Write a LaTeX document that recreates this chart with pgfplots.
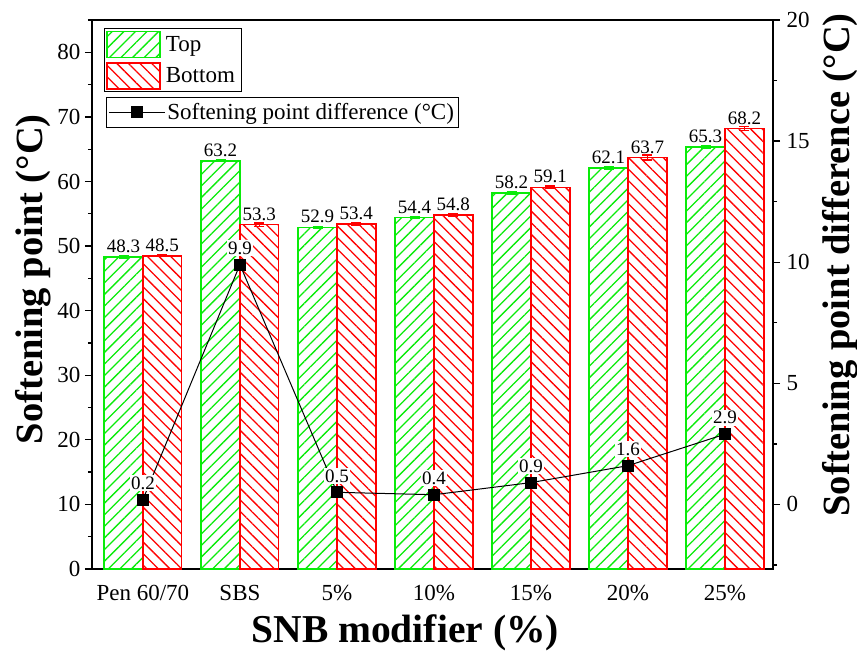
\documentclass[border=0pt]{standalone}
\usepackage{fontspec}
\setmainfont{Liberation Serif}
\usepackage{pgfplots}
\pgfplotsset{compat=1.18}
\usetikzlibrary{patterns.meta}

\definecolor{topgreen}{RGB}{10,235,10}
\definecolor{botred}{RGB}{255,0,0}

\newcommand{\tickfont}{\fontsize{23}{27}\selectfont}
\newcommand{\valfont}{\fontsize{19}{22}\selectfont}
\newcommand{\ylabfont}{\fontsize{38.5}{42}\selectfont\bfseries}
\newcommand{\xlabfont}{\fontsize{39.5}{43}\selectfont\bfseries}

\pgfplotsset{
  hatchbox legend/.style={legend image code/.code={\draw[##1] (0pt,-13pt) rectangle (53pt,13pt);}},
  markline legend/.style={legend image code/.code={\draw[##1, mark repeat=2, mark phase=2] plot coordinates {(0pt,0pt) (28pt,0pt) (56pt,0pt)};}},
}

% Bar positions: category index -0.2 (top) and +0.2 (bottom)
\pgfplotstableread{
x    y    e
-0.2 48.3 0.15
0.8  63.2 0.1
1.8  52.9 0.15
2.8  54.4 0.15
3.8  58.2 0.2
4.8  62.1 0.2
5.8  65.3 0.2
}\toptable
\pgfplotstableread{
x   y    e
0.2 48.5 0.15
1.2 53.3 0.3
2.2 53.4 0.2
3.2 54.8 0.2
4.2 59.1 0.2
5.2 63.7 0.4
6.2 68.2 0.3
}\bottomtable
\pgfplotstableread{
x y
0 0.2
1 9.9
2 0.5
3 0.4
4 0.9
5 1.6
6 2.9
}\difftable

\begin{document}
\begin{tikzpicture}
\useasboundingbox (-92pt,-85pt) rectangle (765pt,569pt);

% Softening point of the top and bottom sections (left axis)
\begin{axis}[
  scale only axis,
  width=681pt, height=549pt,
  xmin=-0.525, xmax=6.495,
  ymin=0, ymax=85,
  ytick={0,10,...,80},
  minor ytick={5,15,...,85},
  ytick pos=left,
  xtick={0,1,2,3,4,5,6},
  xticklabels={Pen 60/70,SBS,5\%,10\%,15\%,20\%,25\%},
  xtick style={draw=none},
  tick align=outside,
  major tick length=7pt,
  minor tick length=4pt,
  every tick/.style={black, line width=1.3pt},
  axis line style={line width=1.8pt},
  /pgf/number format/assume math mode=true,
  ticklabel style={font=\tickfont},
  xticklabel style={yshift=-6pt},
  yticklabel style={xshift=-1pt},
  xlabel={SNB modifier (\%)},
  ylabel={Softening point (°C)},
  xlabel style={font=\xlabfont, at={(axis description cs:0.46,-0.117)}, anchor=center},
  ylabel style={font=\ylabfont, at={(axis description cs:-0.087,0.528)}, anchor=center},
  legend style={at={(axis description cs:0.0176,0.985)}, anchor=north west,
    draw=black, line width=0.8pt, font=\tickfont, row sep=4pt,
    inner xsep=2pt, inner ysep=2pt, nodes={inner xsep=5pt}},
  legend cell align=left,
  hatchbox legend,
  nodes near coords,
  every node near coord/.append style={font=\valfont, black, anchor=south, yshift=0pt},
  nodes near coords style={/pgf/number format/fixed, /pgf/number format/precision=1, /pgf/number format/fixed zerofill},
]
\addplot+[ybar, bar width=0.4, bar shift=0pt,
  draw=topgreen, line width=1.5pt,
  pattern={Lines[angle=45,distance=8.2pt,line width=1.3pt]}, pattern color=topgreen,
  mark=none,
  error bars/.cd, y dir=both, y explicit,
  error bar style={topgreen, line width=1.5pt},
  error mark options={rotate=90, mark size=5pt, topgreen, line width=1.5pt}]
  table[x=x, y=y, y error=e] {\toptable};
\addlegendentry{Top}
\addplot+[ybar, bar width=0.4, bar shift=0pt,
  draw=botred, line width=1.5pt,
  pattern={Lines[angle=-45,distance=8.2pt,line width=1.3pt]}, pattern color=botred,
  mark=none,
  error bars/.cd, y dir=both, y explicit,
  error bar style={botred, line width=1.5pt},
  error mark options={rotate=90, mark size=5pt, botred, line width=1.5pt}]
  table[x=x, y=y, y error=e] {\bottomtable};
\addlegendentry{Bottom}
\end{axis}

% Difference between the two sections (right axis)
\begin{axis}[
  scale only axis,
  width=681pt, height=549pt,
  xmin=-0.525, xmax=6.495,
  ymin=-2.6667, ymax=20,
  axis y line*=right,
  axis x line=none,
  ytick={0,5,...,20},
  minor ytick={-2.5,2.5,7.5,12.5,17.5},
  tick align=outside,
  major tick length=7pt,
  minor tick length=4pt,
  every tick/.style={black, line width=1.3pt},
  axis line style={line width=1.8pt},
  /pgf/number format/assume math mode=true,
  ticklabel style={font=\tickfont},
  yticklabel style={xshift=3pt},
  ylabel={Softening point difference (°C)},
  ylabel style={font=\ylabfont, at={(axis description cs:1.099,0.554)}, anchor=center},
  legend style={at={(axis description cs:0.0205,0.86)}, anchor=north west,
    draw=black, line width=0.8pt, font=\tickfont,
    inner xsep=2pt, inner ysep=4pt},
  markline legend,
]
\addplot[black, line width=1pt, mark=square*, mark size=5.5pt,
  mark options={solid, fill=black},
  nodes near coords,
  every node near coord/.append style={font=\valfont, black, fill=white,
    inner sep=1.5pt, anchor=south, yshift=8pt},
  nodes near coords style={/pgf/number format/fixed, /pgf/number format/precision=1, /pgf/number format/fixed zerofill}]
  table[x=x, y=y] {\difftable};
\addlegendentry{Softening point difference (°C)}
\end{axis}
\end{tikzpicture}
\end{document}
